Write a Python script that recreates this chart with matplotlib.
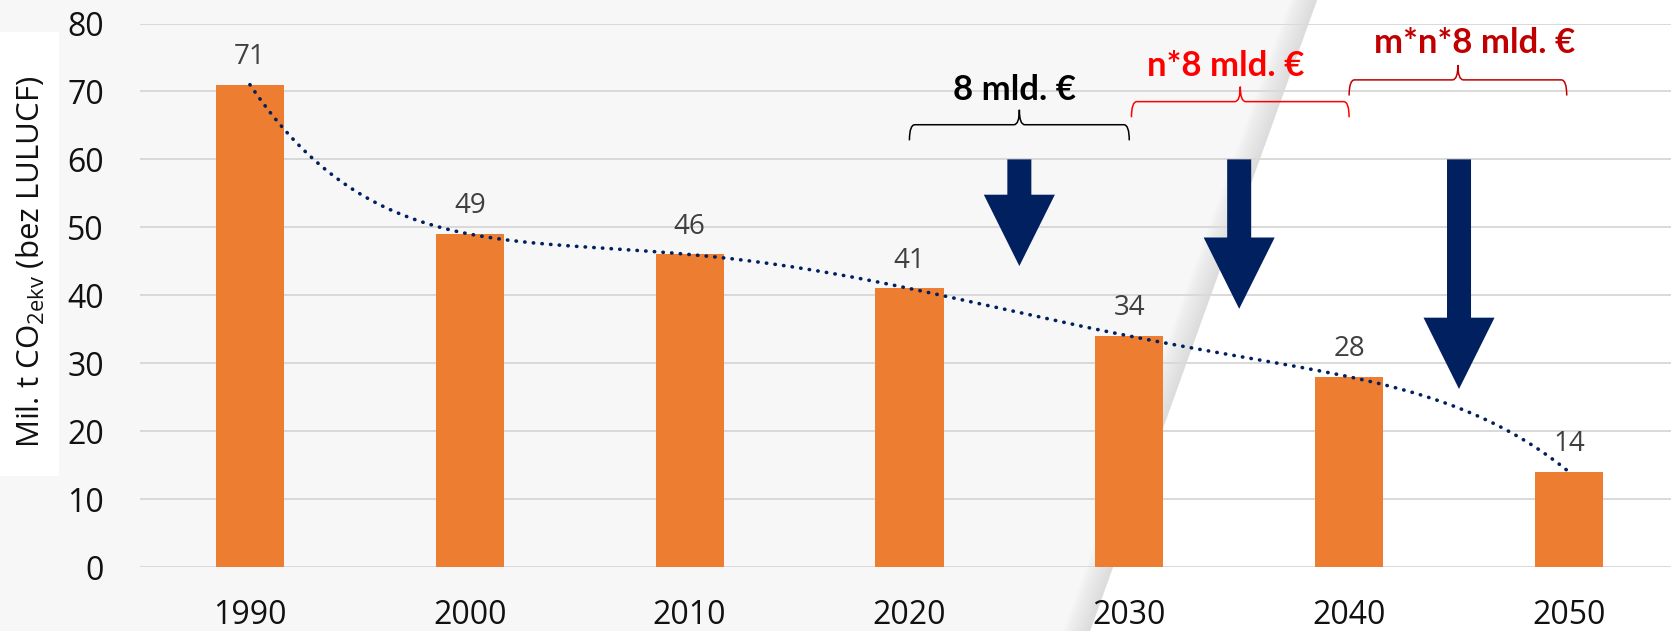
import numpy as np
import matplotlib.pyplot as plt
from matplotlib.patches import Polygon, Rectangle, PathPatch
from matplotlib.path import Path

# data
years = ['1990', '2000', '2010', '2020', '2030', '2040', '2050']
emissions = [71, 49, 46, 41, 34, 28, 14]

# arrows between decades (x in category units, tip value)
arrow_x = [3.5, 4.5, 5.5]
arrow_tip = [44.3, 38.0, 26.2]
arrow_top = 60

# braces above the arrows
brace_from = [3.0, 4.01, 5.0]
brace_to = [4.0, 5.0, 5.99]
brace_y = [65.1, 68.5, 71.7]
brace_text = ['8 mld. €', 'n*8 mld. €', 'm*n*8 mld. €']
brace_text_x = [3.48, 4.44, 5.57]
brace_text_y = [68.7, 72.2, 75.7]
brace_color = ['black', '#ff0000', '#c00000']

W, H = 1671, 631
fig = plt.figure(figsize=(W / 100, H / 100), dpi=100)
fig.patch.set_facecolor('white')

# page-curl background: grey left part, white right part
bx_top, bx_bot = 1317 / W, 1090 / W
fig.patches.append(Polygon([(0, 0), (bx_bot, 0), (bx_top, 1), (0, 1)],
                           closed=True, transform=fig.transFigure,
                           facecolor='#f7f7f7', edgecolor='none', zorder=-10))
for i in range(12):
    w = (12 - i) * 2.2 / W
    fig.patches.append(Polygon([(bx_bot - w, 0), (bx_bot, 0), (bx_top, 1), (bx_top - w, 1)],
                               closed=True, transform=fig.transFigure,
                               facecolor='#c8c8c8', edgecolor='none', alpha=0.05,
                               zorder=-9))
# white box behind the y label
fig.patches.append(Rectangle((0, 1 - 476 / H), 59 / W, (476 - 32) / H,
                             transform=fig.transFigure, facecolor='white',
                             edgecolor='none', zorder=-8))

ax = fig.add_axes([140 / W, 1 - 567 / H, 1 - 140 / W, (567 - 23.5) / H])
ax.patch.set_alpha(0)
x = np.arange(len(years))

ax.bar(x, emissions, width=0.31, color='#ed7d31', zorder=3)
for xi, v in zip(x, emissions):
    ax.annotate(str(v), (xi, v), xytext=(0, 15), textcoords='offset points',
                ha='center', va='baseline', fontsize=20, color='#404040',
                family='Open Sans', zorder=5)

# polynomial trend line (order 6), dotted
coef = np.polyfit(x, emissions, 6)
xs = np.linspace(0, 6, 400)
ax.plot(xs, np.polyval(coef, xs), color='#002060', lw=2.6,
        linestyle=(0, (0.1, 2.3)), dash_capstyle='round', zorder=4)

# block arrows
hs, hh, hl = 12 / 219.7, 35.5 / 219.7, 10.5
for ax_x, tip in zip(arrow_x, arrow_tip):
    pts = [(ax_x - hs, arrow_top), (ax_x + hs, arrow_top), (ax_x + hs, tip + hl),
           (ax_x + hh, tip + hl), (ax_x, tip), (ax_x - hh, tip + hl), (ax_x - hs, tip + hl)]
    ax.add_patch(Polygon(pts, closed=True, facecolor='#002060', edgecolor='none', zorder=5))

# curly braces
r = 0.025
for x0, x1, y, c in zip(brace_from, brace_to, brace_y, brace_color):
    xm = (x0 + x1) / 2
    verts = [(x0, y - 2.3), (x0, y), (x0 + r, y), (xm - r, y), (xm, y), (xm, y + 2.2),
             (xm, y), (xm + r, y), (x1 - r, y), (x1, y), (x1, y - 2.3)]
    codes = [Path.MOVETO, Path.CURVE3, Path.CURVE3, Path.LINETO, Path.CURVE3, Path.CURVE3,
             Path.CURVE3, Path.CURVE3, Path.LINETO, Path.CURVE3, Path.CURVE3]
    ax.add_patch(PathPatch(Path(verts, codes), fill=False, edgecolor=c, lw=1.1, zorder=5))

for t, tx, ty, c in zip(brace_text, brace_text_x, brace_text_y, brace_color):
    ax.text(tx, ty, t, ha='center', va='baseline', fontsize=25, fontweight='bold',
            family='Lato', color=c, zorder=6)

ax.set_xlim(-0.5, 6 + (W - 1569) / 219.7)
ax.set_ylim(0, 80)
ax.set_yticks(range(0, 81, 10))
ax.set_xticks(x)
ax.set_xticklabels(years)
ax.tick_params(axis='y', length=0, labelsize=23, pad=26)
ax.tick_params(axis='x', length=0, labelsize=23, pad=23)
for lab in ax.get_xticklabels() + ax.get_yticklabels():
    lab.set_family('Open Sans')
    lab.set_color('#111111')
ax.yaxis.grid(True, color='#d9d9d9', lw=1.4, zorder=0)
ax.set_axisbelow(True)
for s in ax.spines.values():
    s.set_visible(False)

fig.text(31 / W, 1 - 262 / H, r'Mil. t CO$_{\mathregular{2ekv}}$ (bez LULUCF)',
         rotation=90, ha='center', va='center', fontsize=22.5, family='Open Sans',
         color='#111111')

fig.savefig('out.png', dpi=100)
